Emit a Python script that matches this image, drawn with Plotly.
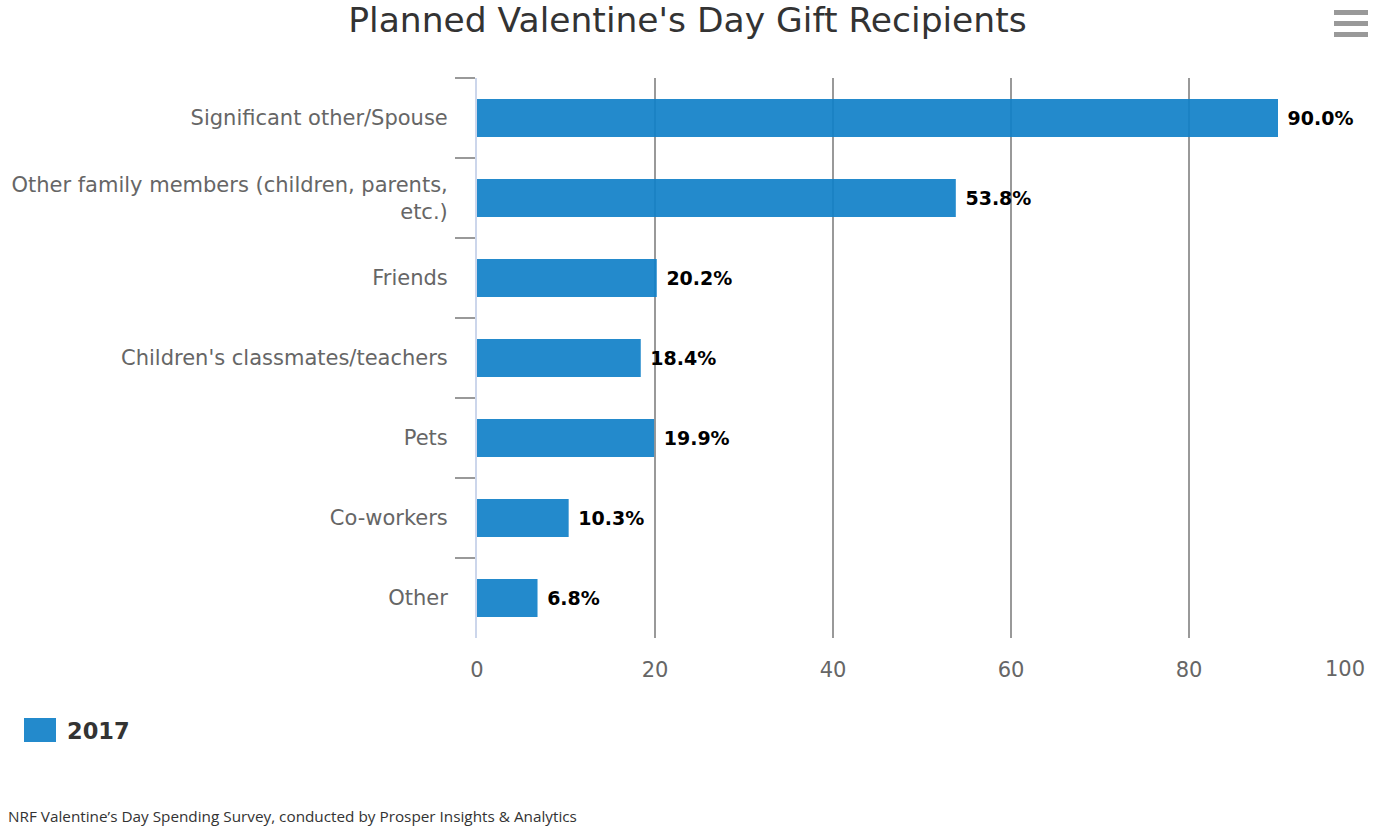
import plotly.graph_objects as go

categories = [
    "Significant other/Spouse",
    "Other family members (children, parents,<br>etc.)",
    "Friends",
    "Children's classmates/teachers",
    "Pets",
    "Co-workers",
    "Other",
]
values_2017 = [90.0, 53.8, 20.2, 18.4, 19.9, 10.3, 6.8]
x_ticks = [0, 20, 40, 60, 80, 100]
x_tick_text = ["0", "20", "40", "60", "80", ""]  # last one drawn right-aligned below

font_name = "DejaVu Sans"
bar_color = "rgba(16,128,200,0.92)"

W, H = 1383, 832
L, R, T, B = 477, 16, 78, 194
PW, PH = W - L - R, H - T - B


def px(x):
    # pixel x -> paper x
    return (x - L) / PW


def py(y):
    # pixel y -> paper y
    return (H - B - y) / PH


fig = go.Figure()

fig.add_trace(go.Bar(
    y=categories,
    x=values_2017,
    orientation="h",
    name="2017",
    marker=dict(color=bar_color, line=dict(width=0)),
    text=[" %.1f%%" % v for v in values_2017],
    textposition="outside",
    textfont=dict(family=font_name, size=19, color="#000000"),
    texttemplate="<b>%{text}</b>",
    cliponaxis=False,
    showlegend=False,
))

fig.update_yaxes(
    autorange="reversed",
    type="category",
    tickson="boundaries",
    ticks="outside",
    ticklen=20,
    tickcolor="#999999",
    tickwidth=2,
    showline=True,
    linecolor="#ccd6eb",
    linewidth=2,
    showgrid=False,
    automargin=False,
    ticklabelstandoff=23,
    tickfont=dict(family=font_name, size=21, color="#666666"),
)
fig.update_xaxes(
    range=[0, 100],
    tickvals=x_ticks,
    ticktext=x_tick_text,
    showgrid=True,
    gridcolor="#999999",
    gridwidth=2,
    zeroline=False,
    showline=False,
    ticks="",
    automargin=False,
    ticklabelstandoff=17,
    tickfont=dict(family=font_name, size=21, color="#666666"),
    layer="above traces",
)

fig.update_layout(
    width=W,
    height=H,
    bargap=0.525,
    paper_bgcolor="white",
    plot_bgcolor="white",
    margin=dict(l=L, r=R, t=T, b=B, autoexpand=False),
    title=dict(
        text="Planned Valentine's Day Gift Recipients",
        x=687.5 / W, xanchor="center",
        y=1 - 20 / H, yanchor="middle",
        font=dict(family=font_name, size=34.5, color="#333333"),
    ),
    showlegend=False,
)

# last x tick label, right-aligned to the 100 grid line
fig.add_annotation(
    text=str(x_ticks[-1]), xref="x", yref="paper",
    x=x_ticks[-1], y=py(669), xanchor="right", yanchor="middle",
    showarrow=False,
    font=dict(family=font_name, size=21, color="#666666"),
)

# legend: big square + bold label, bottom left
fig.add_shape(
    type="rect", xref="paper", yref="paper",
    x0=px(24), x1=px(56), y0=py(742), y1=py(718),
    fillcolor=bar_color, line=dict(width=0),
)
fig.add_annotation(
    text="<b>2017</b>", xref="paper", yref="paper",
    x=px(65), y=py(731), xanchor="left", yanchor="middle",
    showarrow=False,
    font=dict(family=font_name, size=22.5, color="#333333"),
)

# source note
fig.add_annotation(
    text="NRF Valentine\u2019s Day Spending Survey, conducted by Prosper Insights & Analytics",
    xref="paper", yref="paper",
    x=px(6), y=py(816),
    xanchor="left", yanchor="middle",
    showarrow=False,
    font=dict(family="Open Sans", size=15.3, color="#333333"),
)

# hamburger menu icon, top right
for top in [10, 21, 32]:
    fig.add_shape(
        type="rect", xref="paper", yref="paper",
        x0=px(1334), x1=px(1368), y0=py(top + 5), y1=py(top),
        fillcolor="#999999", line=dict(width=0), layer="above",
    )

# drop the default 8px page margin so the figure fills the window
fig.write_html(
    "out.html",
    config={"displayModeBar": False},
    post_script="document.body.style.margin = '0px';",
)
